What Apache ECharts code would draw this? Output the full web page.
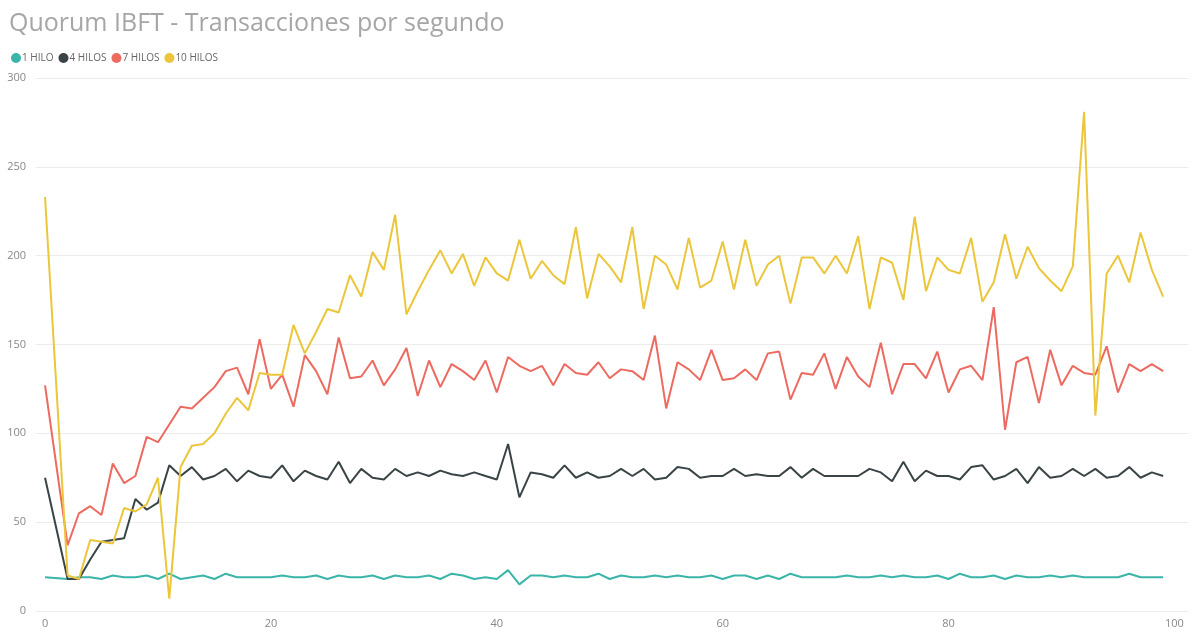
<!DOCTYPE html>
<html lang="es">
<head>
    <meta charset="UTF-8">
    <title>Quorum IBFT - Transacciones por segundo</title>
    <style>
        html, body { margin: 0; padding: 0; background: #fff; }
        #tps { width: 1200px; height: 638px; }
    </style>
</head>
<body>
<div id="tps"></div>

<script type="text/javascript" src="https://cdn.jsdelivr.net/npm/echarts@6/dist/echarts.min.js"></script>
<script>
    // segundos (no hay muestra en x=1)
    var segundos = [0, 2, 3, 4, 5, 6, 7, 8, 9, 10, 11, 12, 13, 14, 15, 16, 17, 18, 19, 20,
        21, 22, 23, 24, 25, 26, 27, 28, 29, 30, 31, 32, 33, 34, 35, 36, 37, 38, 39, 40,
        41, 42, 43, 44, 45, 46, 47, 48, 49, 50, 51, 52, 53, 54, 55, 56, 57, 58, 59, 60,
        61, 62, 63, 64, 65, 66, 67, 68, 69, 70, 71, 72, 73, 74, 75, 76, 77, 78, 79, 80,
        81, 82, 83, 84, 85, 86, 87, 88, 89, 90, 91, 92, 93, 94, 95, 96, 97, 98, 99];

    var hilo1 = [19, 18, 19, 19, 18, 20, 19, 19, 20, 18, 21, 18, 19, 20, 18, 21, 19, 19, 19, 19,
        20, 19, 19, 20, 18, 20, 19, 19, 20, 18, 20, 19, 19, 20, 18, 21, 20, 18, 19, 18,
        23, 15, 20, 20, 19, 20, 19, 19, 21, 18, 20, 19, 19, 20, 19, 20, 19, 19, 20, 18,
        20, 20, 18, 20, 18, 21, 19, 19, 19, 19, 20, 19, 19, 20, 19, 20, 19, 19, 20, 18,
        21, 19, 19, 20, 18, 20, 19, 19, 20, 19, 20, 19, 19, 19, 19, 21, 19, 19, 19];

    var hilos4 = [75, 18, 18, 29, 39, 40, 41, 63, 57, 61, 82, 76, 81, 74, 76, 80, 73, 79, 76, 75,
        82, 73, 79, 76, 74, 84, 72, 80, 75, 74, 80, 76, 78, 76, 79, 77, 76, 78, 76, 74,
        94, 64, 78, 77, 75, 82, 75, 78, 75, 76, 80, 76, 80, 74, 75, 81, 80, 75, 76, 76,
        80, 76, 77, 76, 76, 81, 75, 80, 76, 76, 76, 76, 80, 78, 73, 84, 73, 79, 76, 76,
        74, 81, 82, 74, 76, 80, 72, 81, 75, 76, 80, 76, 80, 75, 76, 81, 75, 78, 76];

    var hilos7 = [127, 37, 55, 59, 54, 83, 72, 76, 98, 95, 105, 115, 114, 120, 126, 135, 137, 122, 153, 125,
        133, 115, 144, 135, 122, 154, 131, 132, 141, 127, 136, 148, 121, 141, 126, 139, 135, 130, 141, 123,
        143, 138, 135, 138, 127, 139, 134, 133, 140, 131, 136, 135, 130, 155, 114, 140, 136, 130, 147, 130,
        131, 136, 130, 145, 146, 119, 134, 133, 145, 125, 143, 132, 126, 151, 122, 139, 139, 131, 146, 123,
        136, 138, 130, 171, 102, 140, 143, 117, 147, 127, 138, 134, 133, 149, 123, 139, 135, 139, 135];

    var hilos10 = [233, 20, 18, 40, 39, 38, 58, 56, 60, 75, 7, 81, 93, 94, 100, 111, 120, 113, 134, 133,
        133, 161, 145, 157, 170, 168, 189, 177, 202, 192, 223, 167, 180, 192, 203, 190, 201, 183, 199, 190,
        186, 209, 187, 197, 189, 184, 216, 176, 201, 194, 185, 216, 170, 200, 195, 181, 210, 182, 186, 208,
        181, 209, 183, 195, 200, 173, 199, 199, 190, 200, 190, 211, 170, 199, 196, 175, 222, 180, 199, 192,
        190, 210, 174, 185, 212, 187, 205, 193, 186, 180, 194, 281, 110, 190, 200, 185, 213, 192, 177];

    var nombres = ['1 HILO', '4 HILOS', '7 HILOS', '10 HILOS'];
    var colores = ['#3AB5A8', '#3A4446', '#EC6A60', '#EBC63A'];
    var ticksX = [0, 20, 40, 60, 80, 100];

    function pares(valores) {
        return segundos.map(function (s, i) { return [s, valores[i]]; });
    }

    var chart = echarts.init(document.getElementById('tps'));
    var fuente = "'Open Sans', 'Noto Sans', sans-serif";

    var series = [hilo1, hilos4, hilos7, hilos10].map(function (v, i) {
        return {
            name: nombres[i],
            type: 'line',
            data: pares(v),
            showSymbol: false,
            symbol: 'none',
            lineStyle: { width: 2, color: colores[i] },
            itemStyle: { color: colores[i] }
        };
    });

    var opcion = {
        animation: false,
        title: {
            text: 'Quorum IBFT - Transacciones por segundo',
            left: 4,
            top: 6,
            textStyle: { fontFamily: fuente, fontSize: 25, fontWeight: 'normal', color: '#a6a6a6' }
        },
        legend: {
            data: nombres,
            left: 6,
            top: 48,
            icon: 'circle',
            itemWidth: 10,
            itemHeight: 10,
            itemGap: 5,
            textStyle: { fontFamily: fuente, fontSize: 10, color: '#666', padding: [0, 0, 0, -4] }
        },
        grid: { left: 36, right: 12, top: 78, bottom: 27 },
        xAxis: {
            type: 'value',
            min: -0.8,
            max: 101.2,
            axisLine: { show: false },
            axisTick: { show: false },
            splitLine: { show: false },
            axisLabel: {
                customValues: ticksX,
                margin: 7,
                fontFamily: fuente,
                fontSize: 11,
                color: '#888'
            }
        },
        yAxis: {
            type: 'value',
            min: 0,
            max: 300,
            interval: 50,
            axisLine: { show: false },
            axisTick: { show: false },
            splitLine: { lineStyle: { color: '#ececec', width: 1 } },
            axisLabel: { margin: 10, fontFamily: fuente, fontSize: 11, color: '#888' }
        },
        series: series
    };

    chart.setOption(opcion);
</script>
</body>
</html>
